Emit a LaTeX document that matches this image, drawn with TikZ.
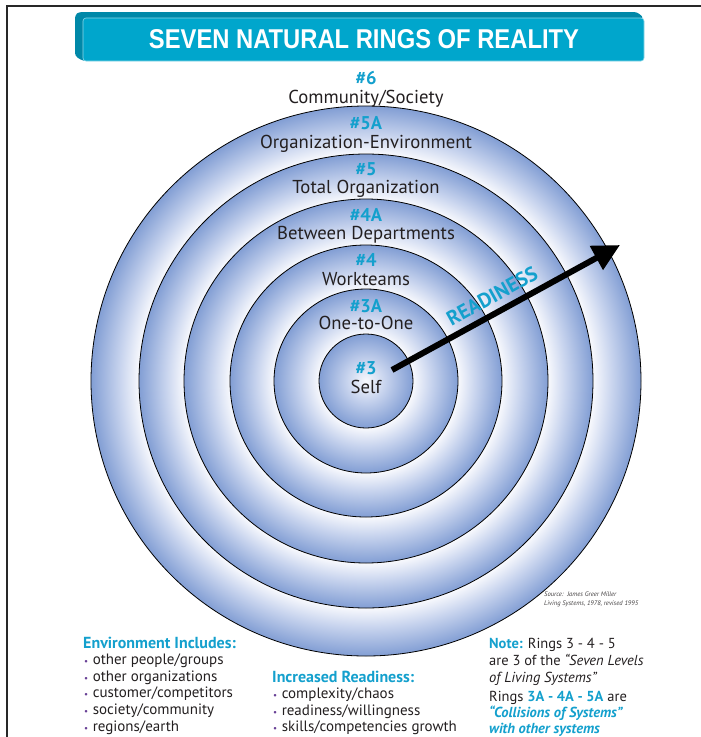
\documentclass[tikz,border=0pt]{standalone}
\usepackage{fontspec}
\setmainfont{PT Sans}
\newfontfamily\titlefont{Liberation Sans}
\usetikzlibrary{arrows.meta}

\definecolor{accent}{RGB}{20,160,205}
\definecolor{bodytext}{RGB}{35,31,32}
\definecolor{bulletpurple}{RGB}{105,65,150}
\definecolor{bannerfront}{RGB}{0,166,204}
\definecolor{bannerside}{RGB}{0,136,168}
\definecolor{framegray}{RGB}{40,40,40}
\definecolor{ringlight}{RGB}{248,249,253}
\definecolor{ringmid}{RGB}{200,212,238}
\definecolor{ringblue}{RGB}{130,158,212}

% one radial shading per ring: light at the inner edge, blue at the outer edge
% (25bp corresponds to the outer radius of the ring)
\pgfdeclareradialshading{ringI}{\pgfpointorigin}{color(0bp)=(ringlight); color(10bp)=(ringmid); color(25bp)=(ringblue); color(50bp)=(ringblue)}
\pgfdeclareradialshading{ringII}{\pgfpointorigin}{color(0bp)=(ringlight); color(12.77bp)=(ringlight); color(17.66bp)=(ringmid); color(25bp)=(ringblue); color(50bp)=(ringblue)}
\pgfdeclareradialshading{ringIII}{\pgfpointorigin}{color(0bp)=(ringlight); color(16.91bp)=(ringlight); color(20.15bp)=(ringmid); color(25bp)=(ringblue); color(50bp)=(ringblue)}
\pgfdeclareradialshading{ringIV}{\pgfpointorigin}{color(0bp)=(ringlight); color(18.68bp)=(ringlight); color(21.21bp)=(ringmid); color(25bp)=(ringblue); color(50bp)=(ringblue)}
\pgfdeclareradialshading{ringV}{\pgfpointorigin}{color(0bp)=(ringlight); color(20.04bp)=(ringlight); color(22.02bp)=(ringmid); color(25bp)=(ringblue); color(50bp)=(ringblue)}
\pgfdeclareradialshading{ringVI}{\pgfpointorigin}{color(0bp)=(ringlight); color(20.64bp)=(ringlight); color(22.38bp)=(ringmid); color(25bp)=(ringblue); color(50bp)=(ringblue)}

\newcommand{\listdot}{\textcolor{bulletpurple}{\small•}\hspace{4.5pt}}

\tikzset{
  ring/.style={circle, draw=black, line width=0.8pt, inner sep=0pt, outer sep=0pt, shade, shading=#1},
  ringnum/.style={anchor=base, inner sep=0pt, text=accent, font=\bfseries\fontsize{18.5}{18.5}\selectfont},
  ringname/.style={anchor=base, inner sep=0pt, text=bodytext, font=\fontsize{18.7}{18.7}\selectfont},
  colhead/.style={anchor=base west, inner sep=0pt, text=accent, font=\bfseries\fontsize{16}{17}\selectfont},
  colline/.style={anchor=base west, inner sep=0pt, text=bodytext, font=\fontsize{15}{17}\selectfont},
  noteline/.style={anchor=base west, inner sep=0pt, text=bodytext, font=\fontsize{14.5}{17}\selectfont},
  srcnote/.style={anchor=base west, inner sep=0pt, text=bodytext!85, font=\itshape\fontsize{6.6}{8}\selectfont},
}

\begin{document}
\begin{tikzpicture}[x=1pt, y=-1pt]
\useasboundingbox (0,0) rectangle (701,737);

% page frame
\draw[framegray, line width=2.6pt] (7,737) -- (7,6) -- (701,6);

% title banner with its extruded edge
\fill[bannerside, rounded corners=3pt] (83,61) -- (75,56) -- (75,15) -- (79,12) -- (637,12) -- (644,18) -- cycle;
\filldraw[fill=bannerfront, draw=white!55!bannerfront, line width=0.6pt, rounded corners=3pt] (83,18) rectangle (644,61);
\node[anchor=base, inner sep=0pt, text=white] (title) at (364,48)
  {\resizebox{430pt}{19pt}{\titlefont\bfseries SEVEN NATURAL RINGS OF REALITY}};

% the six rings
\coordinate (hub) at (366,381);
\node[ring=ringVI,  minimum size=550pt] (ring5a) at (hub) {};
\node[ring=ringV,   minimum size=454pt] (ring5)  at (hub) {};
\node[ring=ringIV,  minimum size=364pt] (ring4a) at (hub) {};
\node[ring=ringIII, minimum size=272pt] (ring4)  at (hub) {};
\node[ring=ringII,  minimum size=184pt] (ring3a) at (hub) {};
\node[ring=ringI,   minimum size=94pt]  (ring3)  at (hub) {};

% ring labels
\node[ringnum]  (n6)  at (366,84)  {\#6};
\node[ringname] (t6)  at (366,103) {Community/Society};
\node[ringnum]  (n5a) at (366,129) {\#5A};
\node[ringname] (t5a) at (366,148) {Organization-Environment};
\node[ringnum]  (n5)  at (366,175) {\#5};
\node[ringname] (t5)  at (366,193) {Total Organization};
\node[ringnum]  (n4a) at (366,221) {\#4A};
\node[ringname] (t4a) at (366,239) {Between Departments};
\node[ringnum]  (n4)  at (366,266) {\#4};
\node[ringname] (t4)  at (366,285) {Workteams};
\node[ringnum]  (n3a) at (366,312) {\#3A};
\node[ringname] (t3a) at (366,329) {One-to-One};
\node[ringnum]  (n3)  at (366,374) {\#3};
\node[ringname] (t3)  at (366,393) {Self};

% readiness arrow
\coordinate (arrowtail) at (392,370);
\coordinate (arrowtip) at (620,245);
\draw[black, line width=6pt, -{Triangle[length=27pt,width=26pt]}] (arrowtail) -- (arrowtip);
\node[rotate=28.9, inner sep=0pt, text=accent, font=\bfseries\fontsize{20.5}{20.5}\selectfont] (readiness) at (492,296) {READINESS};

% source note
\node[srcnote] (src1) at (544,596) {Source:\ \ James Greer Miller};
\node[srcnote] (src2) at (544,605) {Living Systems, 1978, revised 1995};

% left column
\node[colhead] (envhead) at (83,648) {Environment Includes:};
\foreach \txt [count=\i] in {other people/groups, other organizations, customer/competitors, society/community, regions/earth}
  \node[colline] (env\i) at (84,648+16.6*\i) {\listdot\txt};

% middle column
\node[colhead] (readyhead) at (272,682) {Increased Readiness:};
\foreach \txt [count=\i] in {complexity/chaos, readiness/willingness, skills/competencies growth}
  \node[colline] (ready\i) at (273,682+16.5*\i) {\listdot\txt};

% right column
\node[noteline] (note1) at (489,648) {{\color{accent}\bfseries Note:} Rings 3 - 4 - 5};
\node[noteline] (note2) at (489,665) {are 3 of the \textit{“Seven Levels}};
\node[noteline] (note3) at (489,682) {\textit{of Living Systems”}};
\node[noteline] (note4) at (489,701) {Rings {\color{accent}\bfseries 3A - 4A - 5A} are};
\node[noteline] (note5) at (489,717) {{\color{accent}\bfseries\itshape “Collisions of Systems”}};
\node[noteline] (note6) at (489,733) {{\color{accent}\bfseries\itshape with other systems}};
\end{tikzpicture}
\end{document}
